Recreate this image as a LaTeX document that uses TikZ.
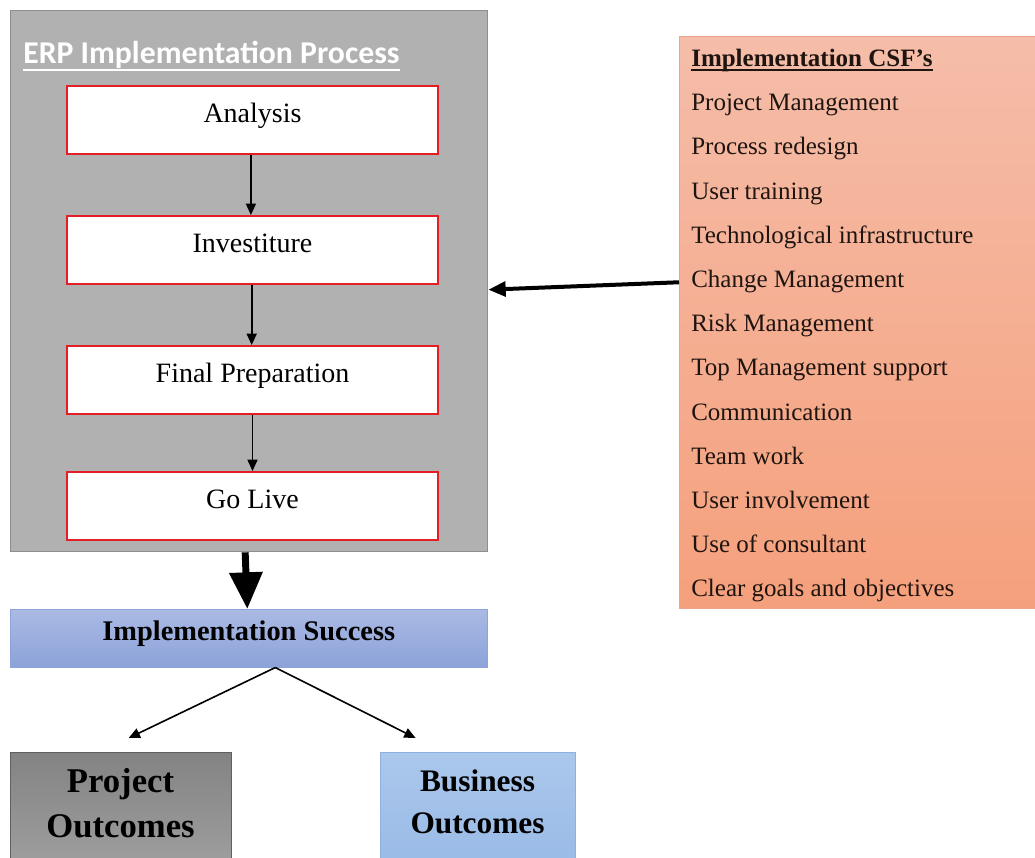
\documentclass[tikz,border=0pt]{standalone}
\usepackage{fontspec}
\setmainfont{Liberation Serif}
\newfontfamily\calib{Carlito}
\usetikzlibrary{arrows.meta}
\definecolor{boxgray}{HTML}{B1B1B1}
\definecolor{graybord}{HTML}{8E8E8E}
\definecolor{procred}{HTML}{E31E24}
\definecolor{succtop}{HTML}{AABAE4}
\definecolor{succbot}{HTML}{8CA2D9}
\definecolor{succbord}{HTML}{8EA4D8}
\definecolor{projtop}{HTML}{838383}
\definecolor{projbot}{HTML}{A0A0A0}
\definecolor{projbord}{HTML}{606060}
\definecolor{bustop}{HTML}{ABC7EC}
\definecolor{busbot}{HTML}{98BAE6}
\definecolor{busbord}{HTML}{8DB0DE}
\definecolor{csftop}{HTML}{F5BDA9}
\definecolor{csfbot}{HTML}{F5A07C}
\definecolor{csfbord}{HTML}{EBA68A}
\definecolor{textdark}{HTML}{1E1410}
\tikzset{
  procbox/.style={draw=procred, line width=1.5pt, fill=white, minimum width=278.25pt,
    minimum height=51pt, anchor=north west, font=\fontsize{21}{25}\selectfont,
    text height=9pt, text depth=5.2pt},
  flow/.style={-{Triangle[length=8.5pt,width=7.5pt]}, line width=1.2pt},
  csfitem/.style={anchor=base west, inner sep=0pt, font=\fontsize{18.75}{22}\selectfont, text=textdark},
  outtext/.style={align=center, inner sep=0pt, text=black}
}
\begin{document}
\begin{tikzpicture}[x=0.75pt,y=-0.75pt]
\useasboundingbox (0,0) rectangle (1035,857);
\fill[white] (0,0) rectangle (1035,857);

% ERP process container
\node[draw=graybord, fill=boxgray, line width=1pt, anchor=north west,
  minimum width=357.75pt, minimum height=405.75pt] (erp) at (10,10) {};
\node[anchor=base west, inner sep=0pt, text=white,
  font=\calib\bfseries\fontsize{23.8}{28}\selectfont] (erptitle) at (23,63.5) {ERP Implementation Process};
\draw[white, line width=1.5pt] ([yshift=-4.5pt]erptitle.base west) -- ([yshift=-4.5pt]erptitle.base east);

\node[procbox] (ana) at (66,85) {Analysis};
\node[procbox] (inv) at (66,215) {Investiture};
\node[procbox] (fin) at (66,345) {Final Preparation};
\node[procbox] (go) at (66,471) {Go Live};

\draw[flow] ([xshift=-1.2pt]ana.south) -- ([xshift=-1.2pt]inv.north);
\draw[flow] ([xshift=-0.6pt]inv.south) -- ([xshift=-0.6pt]fin.north);
\draw[flow] (fin.south) -- (go.north);

% CSF box
\node[draw=csfbord, top color=csftop, bottom color=csfbot, anchor=north west,
  minimum width=270.75pt, minimum height=429pt] (csf) at (679,36) {};
\node[csfitem, font=\bfseries\fontsize{18.75}{22}\selectfont] (csft) at (691,66.5) {Implementation CSF’s};
\draw[textdark, line width=1.2pt] ([yshift=-2.6pt]csft.base west) -- ([yshift=-2.6pt]csft.base east);
\foreach \t [count=\i from 0] in {Project Management, Process redesign, User training,
  Technological infrastructure, Change Management, Risk Management, Top Management support,
  Communication, Team work, User involvement, Use of consultant, Clear goals and objectives}
  \node[csfitem] (c\i) at (691,{110.7+44.2*\i}) {\t};

\draw[line width=3pt, -{Triangle[length=13pt,width=11pt]}] ([yshift=30pt]csf.west) -- ([yshift=-6.4pt]erp.east);

% Implementation success
\node[draw=succbord, top color=succtop, bottom color=succbot, anchor=north west,
  minimum width=357.75pt, minimum height=43.5pt, font=\bfseries\fontsize{21.3}{25}\selectfont,
  text height=10pt, text depth=7pt] (succ) at (10,609) {Implementation Success};

\draw[line width=5.2pt, -{Triangle[length=27.5pt,width=24pt]}] ([xshift=-3pt]erp.south) -- ([xshift=-1.1pt]succ.north);

% Outcomes
\node[draw=projbord, line width=1pt, top color=projtop, bottom color=projbot, anchor=north west,
  minimum width=165.75pt, minimum height=90pt] (proj) at (10,752) {};
\node[outtext, font=\bfseries\fontsize{26}{33.75}\selectfont] (projt) at (120.5,803.3) {Project\\Outcomes};
\node[draw=busbord, line width=1pt, top color=bustop, bottom color=busbot, anchor=north west,
  minimum width=146.25pt, minimum height=90pt] (bus) at (380,752) {};
\node[outtext, font=\bfseries\fontsize{23.5}{31.5}\selectfont] (bust) at (477.5,802.3) {Business\\Outcomes};

\coordinate (split) at ([xshift=19.9pt]succ.south);
\draw[flow] (split) -- ([xshift=5.6pt,yshift=10.5pt]proj.north);
\draw[flow] (split) -- ([xshift=-46.9pt,yshift=10.5pt]bus.north);
\end{tikzpicture}
\end{document}
